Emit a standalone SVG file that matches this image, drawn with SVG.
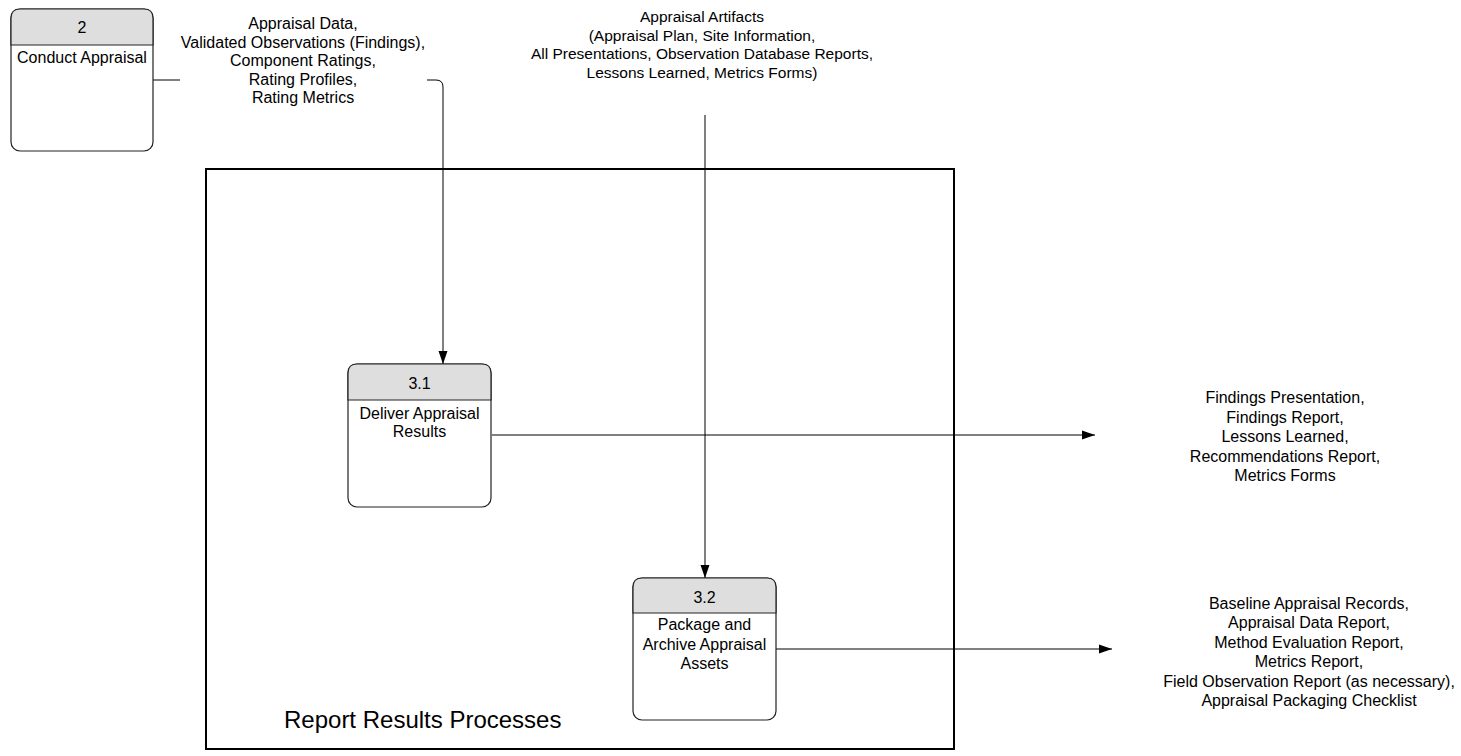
<svg xmlns="http://www.w3.org/2000/svg" width="1461" height="756" viewBox="0 0 1461 756">
<style>
text{font-family:"Liberation Sans",Arial,sans-serif;fill:#000;}
.lbl{font-size:16px;text-anchor:middle;}
.lbl2{font-size:15.5px;text-anchor:middle;}
.nt{font-size:16px;text-anchor:middle;}
.box{fill:#fff;stroke:#222;stroke-width:1.2;}
.hdr{fill:#dedede;stroke:#222;stroke-width:1.2;}
.con{fill:none;stroke:#000;stroke-width:1;}
</style>
<defs>
<marker id="arr" markerUnits="userSpaceOnUse" markerWidth="14" markerHeight="10" refX="13" refY="5" orient="auto">
<path d="M0,0.5 L13,5 L0,9.5 Z" fill="#000"/>
</marker>
</defs>
<rect width="1461" height="756" fill="#fff"/>
<g id="frame">
<rect x="206" y="169" width="748" height="580" fill="none" stroke="#000" stroke-width="2"/>
<text x="284" y="728" style="font-size:24px">Report Results Processes</text>
</g>
<g id="connectors">
<path class="con" d="M153 80 H180"/>
<path class="con" d="M427 80 H436 Q443 80 443 87 V364" marker-end="url(#arr)"/>
<path class="con" d="M705 115 V578" marker-end="url(#arr)"/>
<path class="con" d="M492 435 H1095" marker-end="url(#arr)"/>
<path class="con" d="M776 649 H1112" marker-end="url(#arr)"/>
</g>
<g id="node-2">
<rect class="box" x="11" y="9" width="142" height="142" rx="9"/>
<path class="hdr" d="M11 45 V18 Q11 9 20 9 H144 Q153 9 153 18 V45 Z"/>
<text class="nt" x="82" y="33">2</text>
<text class="nt" x="82" y="63">Conduct Appraisal</text>
</g>
<g id="node-3-1">
<rect class="box" x="348" y="364" width="143" height="143" rx="9"/>
<path class="hdr" d="M348 400 V373 Q348 364 357 364 H482 Q491 364 491 373 V400 Z"/>
<text class="nt" x="419.5" y="389">3.1</text>
<text class="nt" x="419.5" y="419">Deliver Appraisal</text>
<text class="nt" x="419.5" y="437">Results</text>
</g>
<g id="node-3-2">
<rect class="box" x="633" y="578" width="143" height="142" rx="9"/>
<path class="hdr" d="M633 613 V587 Q633 578 642 578 H767 Q776 578 776 587 V613 Z"/>
<text class="nt" x="704.5" y="603">3.2</text>
<text class="nt" x="704.5" y="630">Package and</text>
<text class="nt" x="704.5" y="650">Archive Appraisal</text>
<text class="nt" x="704.5" y="669">Assets</text>
</g>
<g id="label-inputs">
<text class="lbl" x="303" y="29">Appraisal Data,</text>
<text class="lbl" x="303" y="47.5">Validated Observations (Findings),</text>
<text class="lbl" x="303" y="66">Component Ratings,</text>
<text class="lbl" x="303" y="84.5">Rating Profiles,</text>
<text class="lbl" x="303" y="103">Rating Metrics</text>
</g>
<g id="label-artifacts">
<text class="lbl2" x="702" y="22">Appraisal Artifacts</text>
<text class="lbl2" x="702" y="40.5">(Appraisal Plan, Site Information,</text>
<text class="lbl2" x="702" y="59">All Presentations, Observation Database Reports,</text>
<text class="lbl2" x="702" y="77.5">Lessons Learned, Metrics Forms)</text>
</g>
<g id="label-findings">
<text class="lbl" x="1285" y="403">Findings Presentation,</text>
<text class="lbl" x="1285" y="422.5">Findings Report,</text>
<text class="lbl" x="1285" y="442">Lessons Learned,</text>
<text class="lbl" x="1285" y="461.5">Recommendations Report,</text>
<text class="lbl" x="1285" y="481">Metrics Forms</text>
</g>
<g id="label-archive">
<text class="lbl" x="1309" y="609">Baseline Appraisal Records,</text>
<text class="lbl" x="1309" y="628.4">Appraisal Data Report,</text>
<text class="lbl" x="1309" y="647.8">Method Evaluation Report,</text>
<text class="lbl" x="1309" y="667.2">Metrics Report,</text>
<text class="lbl" x="1309" y="686.6">Field Observation Report (as necessary),</text>
<text class="lbl" x="1309" y="706">Appraisal Packaging Checklist</text>
</g>
</svg>
